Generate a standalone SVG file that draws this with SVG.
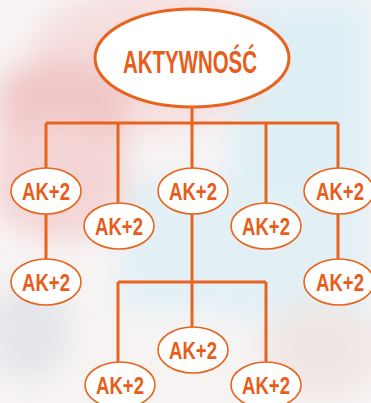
<svg xmlns="http://www.w3.org/2000/svg" width="371" height="403" viewBox="0 0 371 403">
<defs>
<filter id="blur" x="-50%" y="-50%" width="200%" height="200%"><feGaussianBlur stdDeviation="14"/></filter>
<style>
.ln{stroke:#E8641E;stroke-width:3;fill:none}
.nd{fill:#fff;stroke:#E8641E;stroke-width:1.6}
.tp{fill:#fff;stroke:#E8641E;stroke-width:3}
.t{font-family:"Liberation Sans",Arial,sans-serif;font-weight:bold;fill:#E85D1A;text-anchor:middle}
</style>
</defs>
<g id="background">
<rect width="371" height="403" fill="#f7f3f3"/>
<g filter="url(#blur)" opacity="0.9">
<rect x="230" y="0" width="141" height="320" fill="#dcefF6"/>
<rect x="120" y="180" width="251" height="130" fill="#e0f0f6"/>
<ellipse cx="150" cy="60" rx="120" ry="70" fill="#f6dcdc"/>
<path d="M0 80 Q60 40 130 80 L120 200 Q60 150 0 200 Z" fill="#f0c2c2"/>
<ellipse cx="60" cy="180" rx="70" ry="60" fill="#f4d2d2"/>
<ellipse cx="30" cy="330" rx="40" ry="50" fill="#e2e5ea"/>
<ellipse cx="320" cy="350" rx="60" ry="50" fill="#efe6e4"/>
</g>
</g>
<g id="connectors">
<path class="ln" d="M192 106V123M46 123H338M46 123V168M118 123V203M192 123V327M266 123V203M338 123V168"/>
<path class="ln" d="M46 212V260M338 212V260"/>
<path class="ln" d="M118 282H266M118 282V362M266 282V362"/>
</g>
<g id="root"><ellipse class="tp" cx="192" cy="58" rx="97" ry="49"/><text class="t" x="190" y="73" font-size="32" textLength="134" lengthAdjust="spacingAndGlyphs">AKTYWNOŚĆ</text></g>
<g id="n1"><ellipse class="nd" cx="46" cy="191" rx="35" ry="23"/><text class="t" x="46" y="200" font-size="23.5" textLength="48" lengthAdjust="spacingAndGlyphs">AK+2</text></g>
<g id="n2"><ellipse class="nd" cx="119" cy="226" rx="35" ry="23"/><text class="t" x="119" y="235" font-size="23.5" textLength="48" lengthAdjust="spacingAndGlyphs">AK+2</text></g>
<g id="n3"><ellipse class="nd" cx="193" cy="191" rx="35" ry="23"/><text class="t" x="193" y="200" font-size="23.5" textLength="48" lengthAdjust="spacingAndGlyphs">AK+2</text></g>
<g id="n4"><ellipse class="nd" cx="266" cy="226" rx="35" ry="23"/><text class="t" x="266" y="235" font-size="23.5" textLength="48" lengthAdjust="spacingAndGlyphs">AK+2</text></g>
<g id="n5"><ellipse class="nd" cx="339" cy="191" rx="35" ry="23"/><text class="t" x="340" y="200" font-size="23.5" textLength="48" lengthAdjust="spacingAndGlyphs">AK+2</text></g>
<g id="n6"><ellipse class="nd" cx="46" cy="282" rx="35" ry="23"/><text class="t" x="46" y="291" font-size="23.5" textLength="48" lengthAdjust="spacingAndGlyphs">AK+2</text></g>
<g id="n7"><ellipse class="nd" cx="339" cy="282" rx="35" ry="23"/><text class="t" x="340" y="291" font-size="23.5" textLength="48" lengthAdjust="spacingAndGlyphs">AK+2</text></g>
<g id="n8"><ellipse class="nd" cx="193" cy="350" rx="35" ry="23"/><text class="t" x="193" y="359" font-size="23.5" textLength="48" lengthAdjust="spacingAndGlyphs">AK+2</text></g>
<g id="n9"><ellipse class="nd" cx="120" cy="385" rx="35" ry="23"/><text class="t" x="120" y="394" font-size="23.5" textLength="48" lengthAdjust="spacingAndGlyphs">AK+2</text></g>
<g id="n10"><ellipse class="nd" cx="266" cy="385" rx="35" ry="23"/><text class="t" x="266" y="394" font-size="23.5" textLength="48" lengthAdjust="spacingAndGlyphs">AK+2</text></g>
</svg>
